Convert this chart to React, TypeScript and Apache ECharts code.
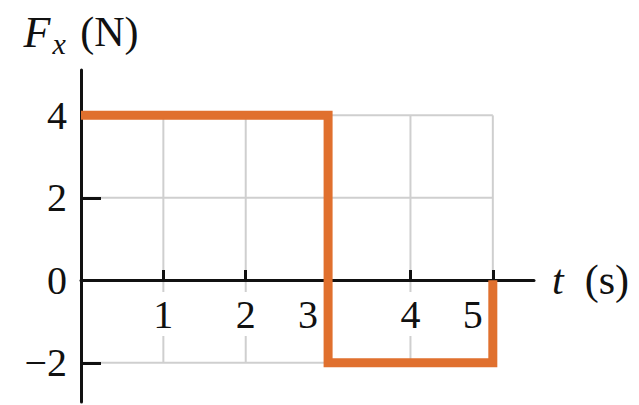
import React, { useEffect, useRef } from "react";
import * as echarts from "echarts";

const forceSteps: number[][] = [
  [0, 4],
  [3, 4],
  [3, -2],
  [5, -2],
  [5, 0],
];
const xTickValues = [1, 2, 3, 4, 5];
const xShiftedLabels = [3, 5];
const yTickValues = [-2, 0, 2, 4];
const yTickMarks = [-2, 2, 4];
const xGridValues = [1, 2, 3, 4, 5];
const yGridValues = [-2, 2, 4];
const gridXRange = [0, 5];
const gridYRange = [-2, 4];

const FONT = "Liberation Serif";
const Y_MIN = -2.95;
const Y_MAX = 5.1;
const GRID_TOP = 70;
const GRID_H = 332;

export default function App() {
  const ref = useRef<HTMLDivElement>(null);
  useEffect(() => {
    if (!ref.current) return;
    const chart = echarts.init(ref.current, null, { renderer: "svg" });
    const gridSeries: any[] = [];
    xGridValues.forEach((x) =>
      gridSeries.push({
        type: "line",
        data: [
          [x, gridYRange[0]],
          [x, gridYRange[1]],
        ],
        symbol: "none",
        silent: true,
        z: 1,
        lineStyle: { color: "#cfcfcf", width: 2 },
      })
    );
    yGridValues.forEach((y) =>
      gridSeries.push({
        type: "line",
        data: [
          [gridXRange[0], y],
          [gridXRange[1], y],
        ],
        symbol: "none",
        silent: true,
        z: 1,
        lineStyle: { color: "#cfcfcf", width: 2 },
      })
    );
    const zeroOffset = -Math.round((GRID_H * (0 - Y_MIN)) / (Y_MAX - Y_MIN));
    chart.setOption({
      animation: false,
      backgroundColor: "#ffffff",
      grid: {
        left: 81,
        top: GRID_TOP,
        width: 453,
        height: GRID_H,
        outerBoundsMode: "none",
        containLabel: false,
      },
      xAxis: {
        type: "value",
        min: 0,
        max: 5.5,
        z: 3,
        position: "bottom",
        offset: zeroOffset,
        name: "{i|t}  (s)",
        nameLocation: "end",
        nameGap: 18,
        nameTextStyle: {
          fontFamily: FONT,
          fontSize: 42,
          color: "#111",
          verticalAlign: "middle",
          rich: {
            i: { fontFamily: FONT, fontSize: 42, fontStyle: "italic", color: "#111" },
          },
        },
        axisLine: { onZero: false, lineStyle: { color: "#111", width: 3 } },
        axisTick: {
          show: true,
          inside: true,
          length: 10,
          customValues: xTickValues,
          lineStyle: { color: "#111", width: 3 },
        },
        splitLine: { show: false },
        axisLabel: {
          customValues: xTickValues,
          margin: 12,
          formatter: (v: number) =>
            xShiftedLabels.indexOf(v) >= 0 ? `{b|${v}}` : `{a|${v}}`,
          rich: {
            a: {
              fontFamily: FONT,
              fontSize: 40,
              color: "#111",
              backgroundColor: "#ffffff",
              padding: [2, 8, 2, 8],
            },
            b: {
              fontFamily: FONT,
              fontSize: 40,
              color: "#111",
              padding: [2, 40, 2, 0],
            },
          },
        },
      },
      yAxis: {
        type: "value",
        min: Y_MIN,
        max: Y_MAX,
        z: 3,
        name: "{i|F}{s|x} (N)",
        nameLocation: "end",
        nameGap: 12,
        nameTextStyle: {
          fontFamily: FONT,
          fontSize: 42,
          color: "#111",
          align: "center",
          rich: {
            i: { fontFamily: FONT, fontSize: 44, fontStyle: "italic", color: "#111" },
            s: {
              fontFamily: FONT,
              fontSize: 30,
              fontStyle: "italic",
              color: "#111",
              padding: [22, 4, 0, 2],
            },
          },
        },
        axisLine: { onZero: false, lineStyle: { color: "#111", width: 3 } },
        axisTick: {
          show: true,
          inside: true,
          length: 20,
          customValues: yTickMarks,
          lineStyle: { color: "#111", width: 3 },
        },
        splitLine: { show: false },
        axisLabel: {
          customValues: yTickValues,
          margin: 14,
          fontFamily: FONT,
          fontSize: 40,
          color: "#111",
          formatter: (v: number) => (v < 0 ? "\u2212" + Math.abs(v) : String(v)),
        },
      },
      series: [
        ...gridSeries,
        {
          type: "line",
          data: forceSteps,
          symbol: "none",
          silent: true,
          z: 5,
          lineStyle: { color: "#E0702E", width: 9, join: "miter", cap: "butt" },
        },
      ],
    });
    return () => chart.dispose();
  }, []);
  return (
    <div
      ref={ref}
      style={{ position: "fixed", left: 0, top: 0, width: 639, height: 405 }}
    />
  );
}
